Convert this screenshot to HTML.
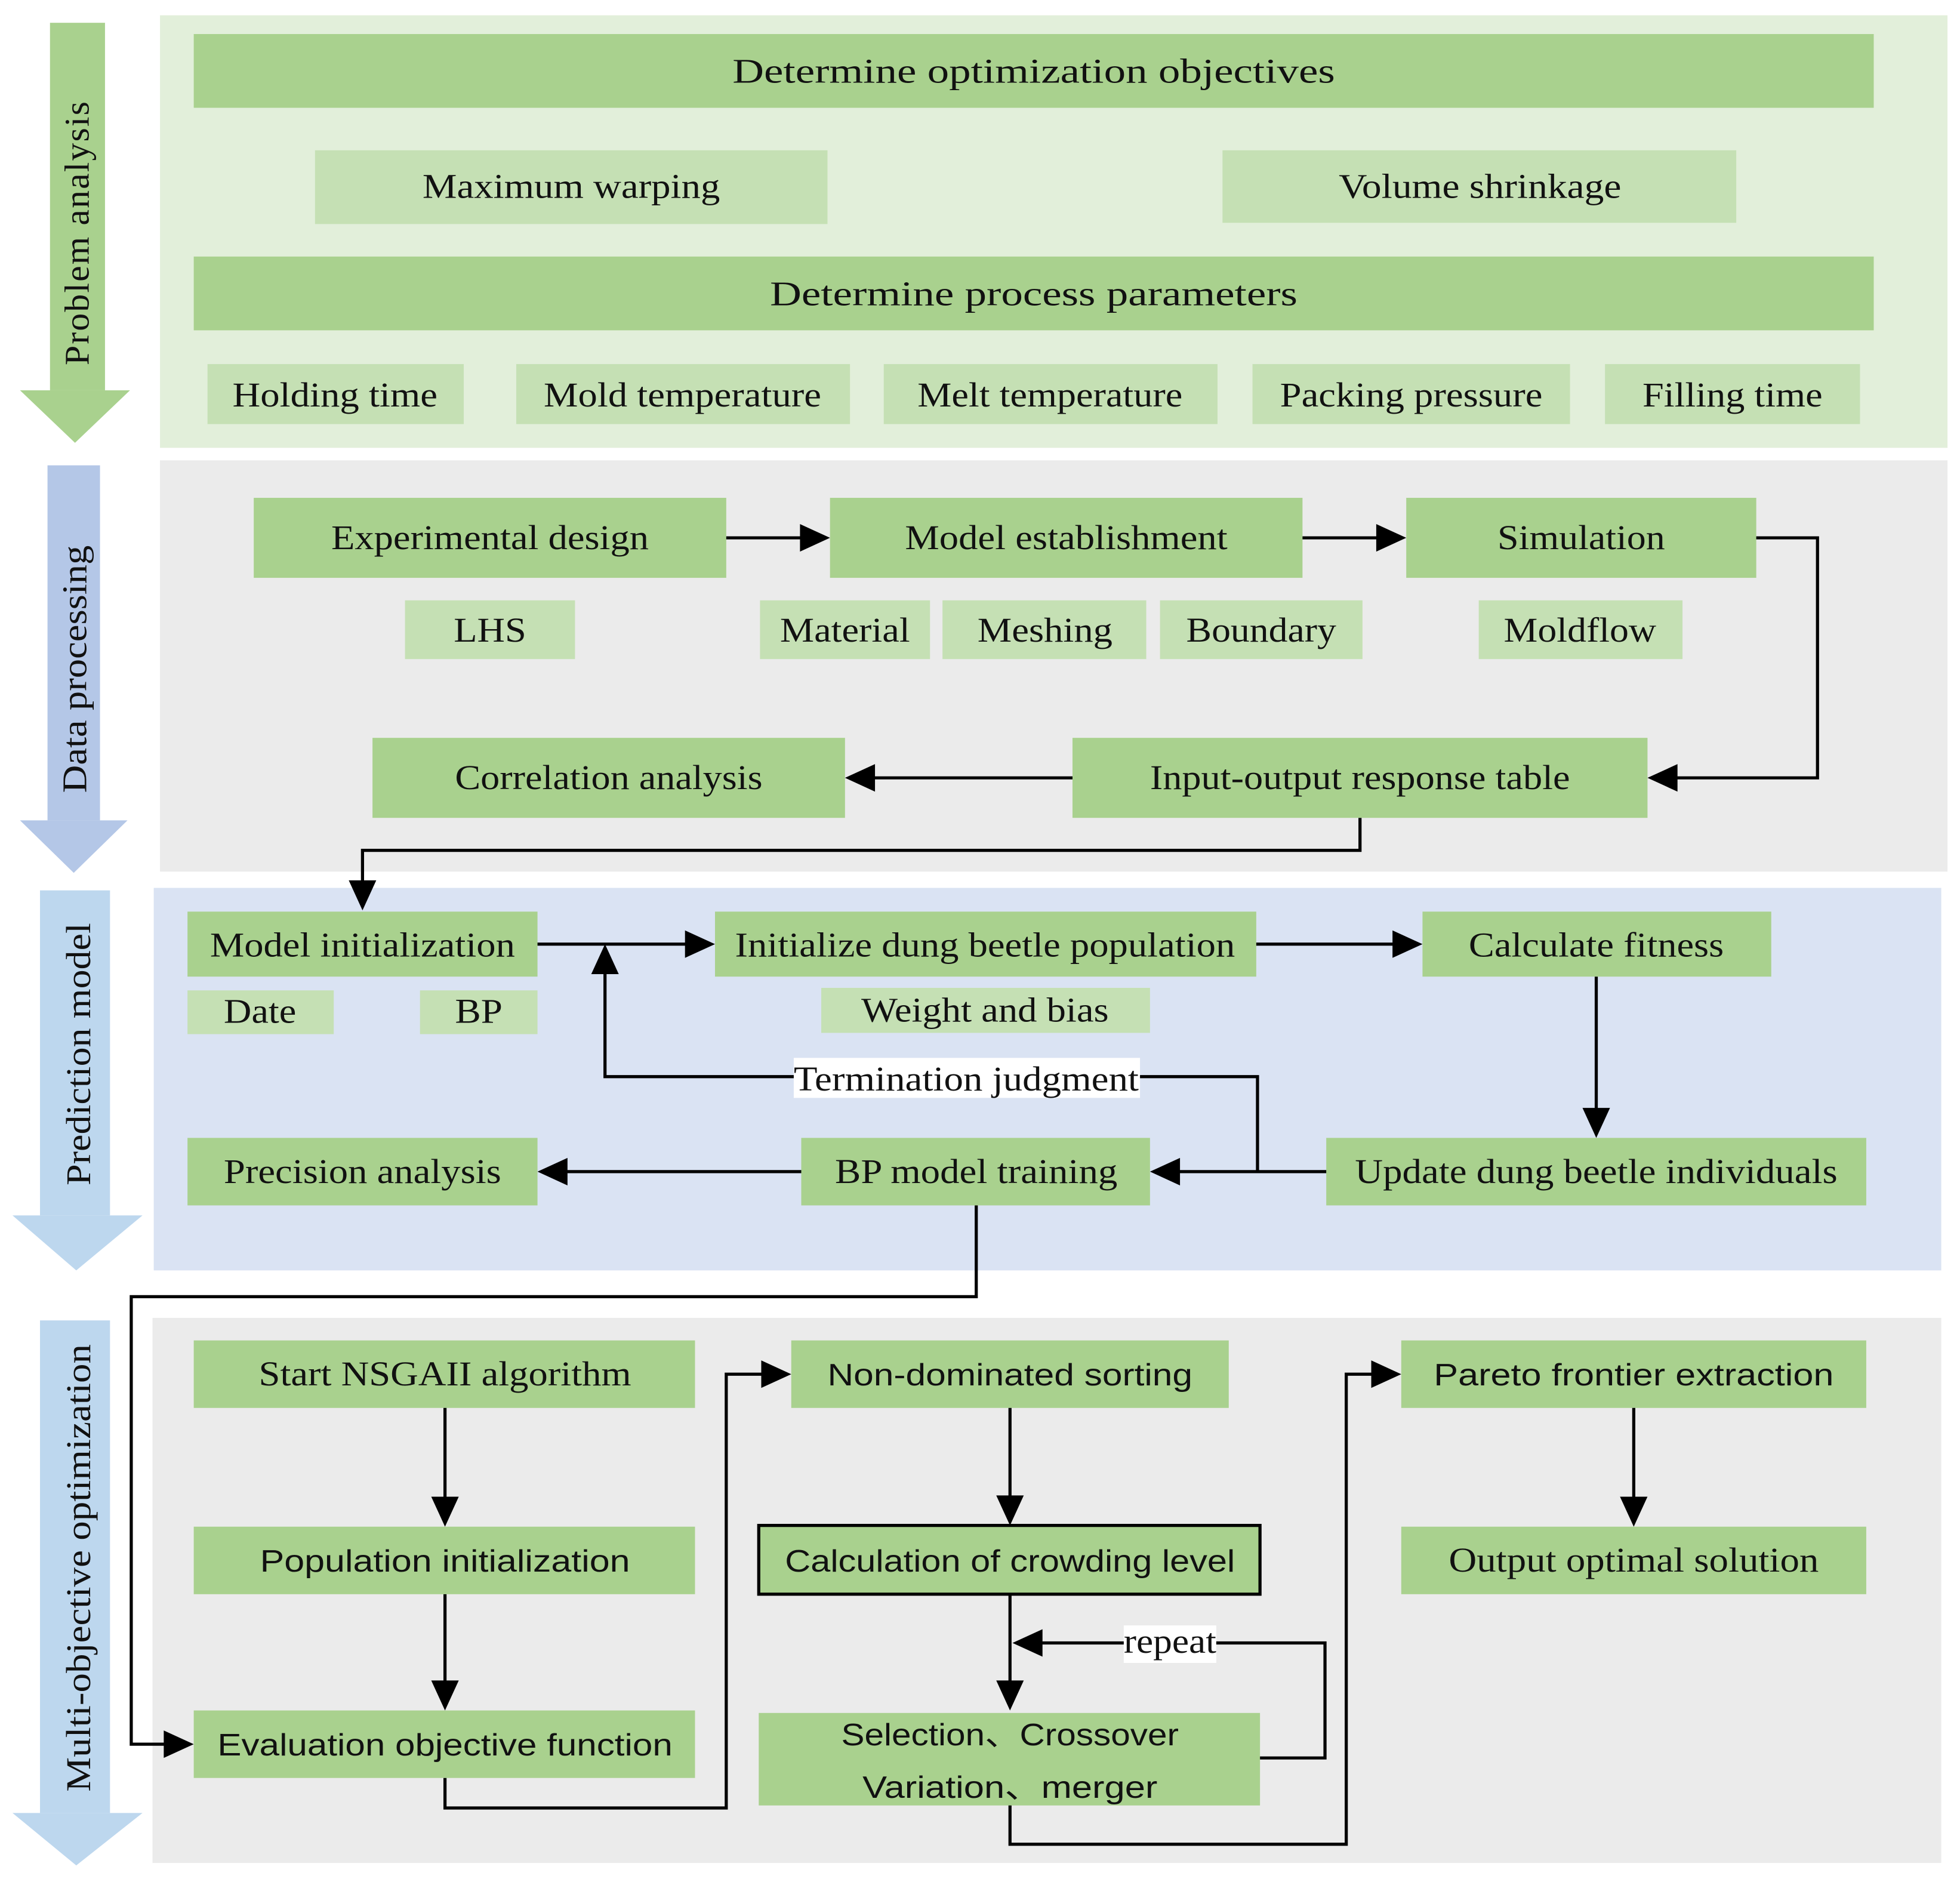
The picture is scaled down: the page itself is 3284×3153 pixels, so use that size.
<!DOCTYPE html>
<html><head><meta charset="utf-8"><style>
html,body{margin:0;padding:0;background:#fff;}
svg{display:block;}
.s{font-family:"Liberation Serif",serif;font-size:28px;fill:#111;}
.n{font-family:"Liberation Sans",sans-serif;font-size:25px;fill:#111;}
.d{fill:#a9d18e;}
.l{fill:#c5e0b4;}
.c{fill:none;stroke:#000;stroke-width:2.5;}
</style></head><body>
<svg width="3284" height="3153" viewBox="0 0 1568 1505" xmlns="http://www.w3.org/2000/svg">
<rect width="1568" height="1505" fill="#fff"/>
<!-- Panel 1 -->
<rect x="128" y="12" width="1430" height="346" fill="#e2efda"/>
<rect x="40" y="18" width="44" height="294" fill="#a9d18e"/>
<polygon points="16,312 104,312 60,354" fill="#a9d18e"/>
<text class="s" transform="translate(71,186) rotate(-90)" text-anchor="middle" textLength="212" lengthAdjust="spacingAndGlyphs" style="letter-spacing:1px">Problem analysis</text>
<rect class="d" x="155" y="27" width="1344" height="59"/>
<text class="s" x="827" y="66" text-anchor="middle" textLength="482" lengthAdjust="spacingAndGlyphs" font-size="30">Determine optimization objectives</text>
<rect class="l" x="252" y="120" width="410" height="59"/>
<text class="s" x="457" y="158" text-anchor="middle" textLength="238" lengthAdjust="spacingAndGlyphs">Maximum warping</text>
<rect class="l" x="978" y="120" width="411" height="58"/>
<text class="s" x="1184" y="158" text-anchor="middle" textLength="226" lengthAdjust="spacingAndGlyphs">Volume shrinkage</text>
<rect class="d" x="155" y="205" width="1344" height="59"/>
<text class="s" x="827" y="244" text-anchor="middle" textLength="422" lengthAdjust="spacingAndGlyphs">Determine process parameters</text>
<rect class="l" x="166" y="291" width="205" height="48"/>
<text class="s" x="268" y="325" text-anchor="middle" textLength="164" lengthAdjust="spacingAndGlyphs">Holding time</text>
<rect class="l" x="413" y="291" width="267" height="48"/>
<text class="s" x="546" y="325" text-anchor="middle" textLength="222" lengthAdjust="spacingAndGlyphs">Mold temperature</text>
<rect class="l" x="707" y="291" width="267" height="48"/>
<text class="s" x="840" y="325" text-anchor="middle" textLength="212" lengthAdjust="spacingAndGlyphs">Melt temperature</text>
<rect class="l" x="1002" y="291" width="254" height="48"/>
<text class="s" x="1129" y="325" text-anchor="middle" textLength="210" lengthAdjust="spacingAndGlyphs">Packing pressure</text>
<rect class="l" x="1284" y="291" width="204" height="48"/>
<text class="s" x="1386" y="325" text-anchor="middle" textLength="144" lengthAdjust="spacingAndGlyphs">Filling time</text>

<!-- Panels background -->
<rect x="128" y="368" width="1430" height="329" fill="#ebebeb"/>
<rect x="123" y="710" width="1430" height="306" fill="#dae3f3"/>
<rect x="122" y="1054" width="1431" height="436" fill="#ebebeb"/>

<!-- Panel 2 -->
<rect x="38" y="372" width="42" height="284" fill="#b4c7e7"/>
<polygon points="16,656 102,656 59,698" fill="#b4c7e7"/>
<text class="s" transform="translate(69,535) rotate(-90)" text-anchor="middle" textLength="198" lengthAdjust="spacingAndGlyphs">Data processing</text>
<rect class="d" x="203" y="398" width="378" height="64"/>
<text class="s" x="392" y="439" text-anchor="middle" textLength="254" lengthAdjust="spacingAndGlyphs">Experimental design</text>
<rect class="d" x="664" y="398" width="378" height="64"/>
<text class="s" x="853" y="439" text-anchor="middle" textLength="258" lengthAdjust="spacingAndGlyphs">Model establishment</text>
<rect class="d" x="1125" y="398" width="280" height="64"/>
<text class="s" x="1265" y="439" text-anchor="middle" textLength="134" lengthAdjust="spacingAndGlyphs">Simulation</text>
<rect class="l" x="324" y="480" width="136" height="47"/>
<text class="s" x="392" y="513" text-anchor="middle" textLength="58" lengthAdjust="spacingAndGlyphs">LHS</text>
<rect class="l" x="608" y="480" width="136" height="47"/>
<text class="s" x="676" y="513" text-anchor="middle" textLength="104" lengthAdjust="spacingAndGlyphs">Material</text>
<rect class="l" x="754" y="480" width="163" height="47"/>
<text class="s" x="836" y="513" text-anchor="middle" textLength="108" lengthAdjust="spacingAndGlyphs">Meshing</text>
<rect class="l" x="928" y="480" width="162" height="47"/>
<text class="s" x="1009" y="513" text-anchor="middle" textLength="120" lengthAdjust="spacingAndGlyphs">Boundary</text>
<rect class="l" x="1183" y="480" width="163" height="47"/>
<text class="s" x="1264" y="513" text-anchor="middle" textLength="122" lengthAdjust="spacingAndGlyphs">Moldflow</text>
<rect class="d" x="298" y="590" width="378" height="64"/>
<text class="s" x="487" y="631" text-anchor="middle" textLength="246" lengthAdjust="spacingAndGlyphs">Correlation analysis</text>
<rect class="d" x="858" y="590" width="460" height="64"/>
<text class="s" x="1088" y="631" text-anchor="middle" textLength="336" lengthAdjust="spacingAndGlyphs">Input-output response table</text>
<path class="c" d="M581 430H646"/><polygon points="664,430 640,419 640,441"/>
<path class="c" d="M1042 430H1107"/><polygon points="1125,430 1101,419 1101,441"/>
<path class="c" d="M1405 430H1454V622H1336"/><polygon points="1318,622 1342,611 1342,633"/>
<path class="c" d="M858 622H694"/><polygon points="676,622 700,611 700,633"/>

<!-- Panel 3 -->
<rect x="32" y="712" width="56" height="260" fill="#bdd7ee"/>
<polygon points="10,972 114,972 61,1016" fill="#bdd7ee"/>
<text class="s" transform="translate(72,843) rotate(-90)" text-anchor="middle" textLength="210" lengthAdjust="spacingAndGlyphs">Prediction model</text>
<rect class="d" x="150" y="729" width="280" height="52"/>
<text class="s" x="290" y="765" text-anchor="middle" textLength="244" lengthAdjust="spacingAndGlyphs">Model initialization</text>
<rect class="l" x="150" y="792" width="117" height="35"/>
<text class="s" x="208" y="818" text-anchor="middle" textLength="58" lengthAdjust="spacingAndGlyphs">Date</text>
<rect class="l" x="336" y="792" width="94" height="35"/>
<text class="s" x="383" y="818" text-anchor="middle" textLength="38" lengthAdjust="spacingAndGlyphs">BP</text>
<rect class="d" x="572" y="729" width="433" height="52"/>
<text class="s" x="788" y="765" text-anchor="middle" textLength="400" lengthAdjust="spacingAndGlyphs">Initialize dung beetle population</text>
<rect class="l" x="657" y="790" width="263" height="36"/>
<text class="s" x="788" y="817" text-anchor="middle" textLength="198" lengthAdjust="spacingAndGlyphs">Weight and bias</text>
<rect class="d" x="1138" y="729" width="279" height="52"/>
<text class="s" x="1277" y="765" text-anchor="middle" textLength="204" lengthAdjust="spacingAndGlyphs">Calculate fitness</text>
<rect class="d" x="1061" y="910" width="432" height="54"/>
<text class="s" x="1277" y="946" text-anchor="middle" textLength="386" lengthAdjust="spacingAndGlyphs">Update dung beetle individuals</text>
<rect class="d" x="641" y="910" width="279" height="54"/>
<text class="s" x="781" y="946" text-anchor="middle" textLength="226" lengthAdjust="spacingAndGlyphs">BP model training</text>
<rect class="d" x="150" y="910" width="280" height="54"/>
<text class="s" x="290" y="946" text-anchor="middle" textLength="222" lengthAdjust="spacingAndGlyphs">Precision analysis</text>
<path class="c" d="M430 755H554"/><polygon points="572,755 548,744 548,766"/>
<path class="c" d="M1005 755H1120"/><polygon points="1138,755 1114,744 1114,766"/>
<path class="c" d="M1277 781V892"/><polygon points="1277,910 1266,886 1288,886"/>
<path class="c" d="M1061 937H938"/><polygon points="920,937 944,926 944,948"/>
<path class="c" d="M641 937H448"/><polygon points="430,937 454,926 454,948"/>
<path class="c" d="M1006 937V861H484V773"/><polygon points="484,755 473,779 495,779"/>
<rect x="635" y="846" width="277" height="32" fill="#fff"/>
<text class="s" x="773" y="872" text-anchor="middle" textLength="276" lengthAdjust="spacingAndGlyphs">Termination judgment</text>

<!-- Panel 4 -->
<rect x="32" y="1056" width="56" height="394" fill="#bdd7ee"/>
<polygon points="10,1450 114,1450 61,1492" fill="#bdd7ee"/>
<text class="s" transform="translate(72,1254) rotate(-90)" text-anchor="middle" textLength="358" lengthAdjust="spacingAndGlyphs">Multi-objective optimization</text>
<rect class="d" x="155" y="1072" width="401" height="54"/>
<text class="s" x="356" y="1108" text-anchor="middle" textLength="298" lengthAdjust="spacingAndGlyphs">Start NSGAII algorithm</text>
<rect class="d" x="155" y="1221" width="401" height="54"/>
<text class="n" x="356" y="1257" text-anchor="middle" textLength="296" lengthAdjust="spacingAndGlyphs">Population initialization</text>
<rect class="d" x="155" y="1368" width="401" height="54"/>
<text class="n" x="356" y="1404" text-anchor="middle" textLength="364" lengthAdjust="spacingAndGlyphs">Evaluation objective function</text>
<rect class="d" x="633" y="1072" width="350" height="54"/>
<text class="n" x="808" y="1108" text-anchor="middle" textLength="292" lengthAdjust="spacingAndGlyphs">Non-dominated sorting</text>
<rect class="d" x="607" y="1220" width="401" height="55" stroke="#000" stroke-width="2.5"/>
<text class="n" x="808" y="1257" text-anchor="middle" textLength="360" lengthAdjust="spacingAndGlyphs">Calculation of crowding level</text>
<rect class="d" x="607" y="1370" width="401" height="74"/>
<text class="n" x="808" y="1396" text-anchor="middle" textLength="270" lengthAdjust="spacingAndGlyphs">Selection、Crossover</text>
<text class="n" x="808" y="1438" text-anchor="middle" textLength="236" lengthAdjust="spacingAndGlyphs">Variation、merger</text>
<rect class="d" x="1121" y="1072" width="372" height="54"/>
<text class="n" x="1307" y="1108" text-anchor="middle" textLength="320" lengthAdjust="spacingAndGlyphs">Pareto frontier extraction</text>
<rect class="d" x="1121" y="1221" width="372" height="54"/>
<text class="s" x="1307" y="1257" text-anchor="middle" textLength="296" lengthAdjust="spacingAndGlyphs">Output optimal solution</text>
<path class="c" d="M356 1126V1203"/><polygon points="356,1221 345,1197 367,1197"/>
<path class="c" d="M356 1275V1350"/><polygon points="356,1368 345,1344 367,1344"/>
<path class="c" d="M808 1126V1202"/><polygon points="808,1220 797,1196 819,1196"/>
<path class="c" d="M808 1275V1350"/><polygon points="808,1368 797,1344 819,1344"/>
<path class="c" d="M1307 1126V1203"/><polygon points="1307,1221 1296,1197 1318,1197"/>
<path class="c" d="M356 1422V1446H581V1099H615"/><polygon points="633,1099 609,1088 609,1110"/>
<path class="c" d="M1008 1406H1060V1314H828"/><polygon points="810,1314 834,1303 834,1325"/>
<rect x="899" y="1300" width="74" height="30" fill="#fff"/>
<text class="s" x="936" y="1322" text-anchor="middle" textLength="74" lengthAdjust="spacingAndGlyphs">repeat</text>
<path class="c" d="M808 1444V1475H1077V1099H1103"/><polygon points="1121,1099 1097,1088 1097,1110"/>

<!-- Cross-panel connectors (drawn on top) -->
<path class="c" d="M1088 654V680H290V710"/><polygon points="290,728 279,704 301,704"/>
<path class="c" d="M781 964V1037H105V1395H137"/><polygon points="155,1395 131,1384 131,1406"/>
</svg>
</body></html>
